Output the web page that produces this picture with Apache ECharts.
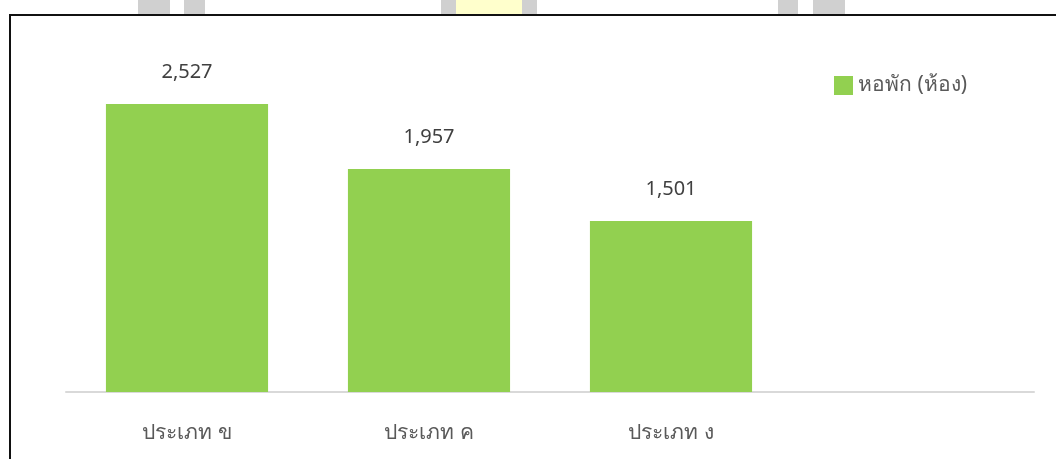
<!DOCTYPE html>
<html>
<head>
<meta charset="utf-8">
<script src="https://cdn.jsdelivr.net/npm/echarts@6/dist/echarts.min.js"></script>
<style>
html,body{margin:0;padding:0;background:#fff;}
#chart{width:1056px;height:459px;}
</style>
</head>
<body>
<div id="chart"></div>
<script>
const categories = ['ประเภท ข', 'ประเภท ค', 'ประเภท ง', ''];
const seriesName = 'หอพัก (ห้อง)';
const roomValues = [2527, 1957, 1501, null];

const chart = echarts.init(document.getElementById('chart'), null, {renderer: 'canvas'});
const font = '"Noto Sans", "DejaVu Sans", sans-serif';
chart.setOption({
  animation: false,
  backgroundColor: '#ffffff',
  graphic: [
    {type: 'rect', shape: {x: 138, y: 0, width: 32, height: 14}, style: {fill: '#d0d0d0'}},
    {type: 'rect', shape: {x: 184, y: 0, width: 21, height: 14}, style: {fill: '#d0d0d0'}},
    {type: 'rect', shape: {x: 441, y: 0, width: 15, height: 14}, style: {fill: '#d0d0d0'}},
    {type: 'rect', shape: {x: 456, y: 0, width: 66, height: 14}, style: {fill: '#ffffcc'}},
    {type: 'rect', shape: {x: 522, y: 0, width: 15, height: 14}, style: {fill: '#d0d0d0'}},
    {type: 'rect', shape: {x: 778, y: 0, width: 20, height: 14}, style: {fill: '#d0d0d0'}},
    {type: 'rect', shape: {x: 813, y: 0, width: 32, height: 14}, style: {fill: '#d0d0d0'}},
    {type: 'line', shape: {x1: 9, y1: 15, x2: 1056, y2: 15}, style: {stroke: '#111', lineWidth: 2}},
    {type: 'line', shape: {x1: 10, y1: 14, x2: 10, y2: 459}, style: {stroke: '#111', lineWidth: 2}}
  ],
  legend: {
    data: [seriesName],
    left: 829,
    top: 70,
    itemWidth: 19,
    itemHeight: 19,
    itemGap: 6,
    icon: 'rect',
    textStyle: {color: '#595959', fontSize: 21, fontFamily: font}
  },
  grid: {left: 66, right: 22, top: 50, bottom: 67},
  xAxis: {
    type: 'category',
    data: categories,
    axisLine: {show: true, lineStyle: {color: '#d9d9d9', width: 2}},
    axisTick: {show: false},
    axisLabel: {color: '#595959', fontSize: 21, fontFamily: font, margin: 31}
  },
  yAxis: {
    type: 'value',
    min: 0,
    max: 3000,
    interval: 500,
    show: false,
    splitLine: {show: false}
  },
  series: [{
    name: seriesName,
    type: 'bar',
    data: roomValues,
    barWidth: '67%',
    itemStyle: {color: '#92d050'},
    label: {
      show: true,
      position: 'top',
      distance: 22,
      color: '#404040',
      fontSize: 20,
      fontFamily: font,
      formatter: p => p.value == null ? '' : p.value.toLocaleString('en-US')
    }
  }]
});
</script>
</body>
</html>
